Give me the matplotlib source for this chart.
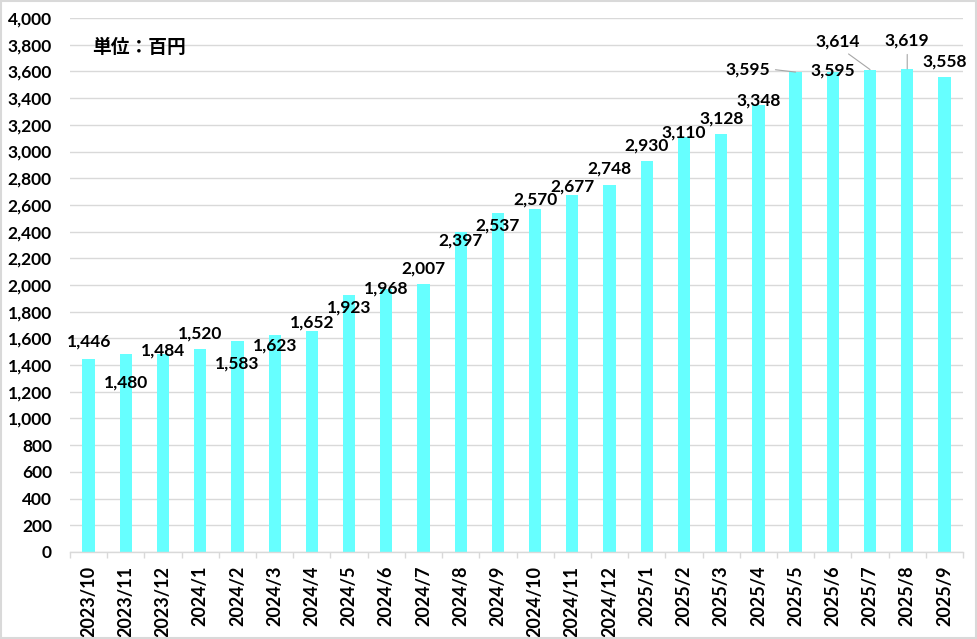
import numpy as np
import matplotlib
matplotlib.use("Agg")
import matplotlib.pyplot as plt
from matplotlib.patches import Rectangle

# Data (unit: million yen)
months = ['2023/10', '2023/11', '2023/12', '2024/1', '2024/2', '2024/3',
          '2024/4', '2024/5', '2024/6', '2024/7', '2024/8', '2024/9',
          '2024/10', '2024/11', '2024/12', '2025/1', '2025/2', '2025/3',
          '2025/4', '2025/5', '2025/6', '2025/7', '2025/8', '2025/9']
values = [1446, 1480, 1484, 1520, 1583, 1623, 1652, 1923, 1968, 2007,
          2397, 2537, 2570, 2677, 2748, 2930, 3110, 3128, 3348, 3595,
          3595, 3614, 3619, 3558]

# Label placement (pixel offset of the label centre from the bar top)
label_dx = [0] * 19 + [-48, 0, -32, 0, 0]
label_dy = [17, -28, 3, 16, -23, -10, 9, -12, 1, 16, -9, -12, 9, 8, 17,
            15, 4, 16, 5, 3, 2, 28, 28, 16]
leader = {19: (1.0, 0.5), 21: (0.6, 0.0), 22: (0.5, 0.0)}

plt.rcParams['font.family'] = ['Lato', 'Noto Sans CJK JP', 'DejaVu Sans']
grid_col = '#d9d9d9'
bar_col = '#66FFFF'

fig = plt.figure(figsize=(9.78, 6.39), dpi=100)
ax = fig.add_axes([0.0716, 0.1362, 0.9131, 0.8356])

x = np.arange(len(months))
ax.bar(x, values, width=0.33, color=bar_col, zorder=2)

ax.set_xlim(-0.5, len(months) - 0.5)
ax.set_ylim(0, 4000)
ax.set_yticks(np.arange(0, 4001, 200))
ax.set_yticklabels([f'{v:,}' for v in range(0, 4001, 200)],
                   fontsize=12.5, fontweight='bold')
ax.yaxis.grid(True, color=grid_col, lw=1, zorder=0)
ax.tick_params(axis='y', length=0, pad=13)

ax.set_xticks(x)
ax.set_xticklabels(months, rotation=90, fontsize=13, fontweight='bold')
ax.set_xticks(np.arange(-0.5, len(months), 1), minor=True)
ax.tick_params(axis='x', which='major', length=0, pad=10)
ax.tick_params(axis='x', which='minor', length=4, color=grid_col, width=1)

for s in ['top', 'right', 'left']:
    ax.spines[s].set_visible(False)
ax.spines['bottom'].set_color(grid_col)
ax.spines['bottom'].set_linewidth(1)

for i, v in enumerate(values):
    kw = {}
    if i in leader:
        kw['arrowprops'] = dict(arrowstyle='-', color='#a6a6a6', lw=0.8,
                                shrinkA=2, shrinkB=0, relpos=leader[i])
    ax.annotate(f'{v:,}', xy=(i, v), xytext=(label_dx[i], label_dy[i]),
                textcoords='offset pixels', ha='center', va='center',
                fontsize=12.5, fontweight='bold', zorder=4, **kw)

ax.text(0.0246, 0.945, '単位：百円', transform=ax.transAxes,
        family=['Noto Sans CJK JP', 'DejaVu Sans'], fontsize=13.5,
        fontweight='bold', ha='left', va='center')

fig.patches.append(Rectangle((0.001, 0.001), 0.997, 0.997,
                             transform=fig.transFigure, fill=False,
                             edgecolor=grid_col, lw=1.5))

fig.savefig('out.png', dpi=100)
